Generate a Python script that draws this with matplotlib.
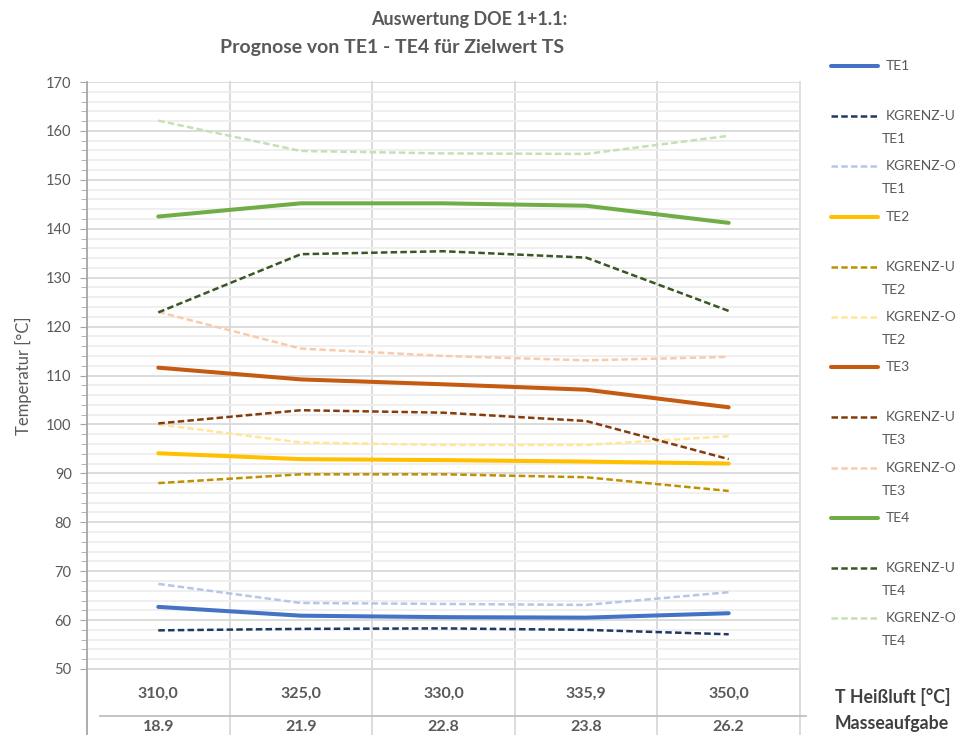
import matplotlib.pyplot as plt
from matplotlib.lines import Line2D
from matplotlib.ticker import MultipleLocator
import matplotlib.transforms as mtransforms

plt.rcParams['font.family'] = ['Lato', 'DejaVu Sans']

# Kategorien (zwei Ebenen)
t_heissluft = ["310,0", "325,0", "330,0", "335,9", "350,0"]
masseaufgabe = ["18.9", "21.9", "22.8", "23.8", "26.2"]

# Prognosewerte
te1 = [62.7, 60.9, 60.6, 60.5, 61.4]
te1_u = [57.9, 58.2, 58.3, 58.0, 57.1]
te1_o = [67.4, 63.5, 63.3, 63.1, 65.7]
te2 = [94.1, 92.9, 92.7, 92.4, 92.0]
te2_u = [88.0, 89.8, 89.8, 89.2, 86.4]
te2_o = [100.0, 96.3, 95.8, 95.8, 97.6]
te3 = [111.6, 109.2, 108.2, 107.1, 103.5]
te3_u = [100.2, 102.9, 102.4, 100.7, 92.9]
te3_o = [123.0, 115.5, 114.0, 113.1, 113.8]
te4 = [142.5, 145.2, 145.2, 144.7, 141.2]
te4_u = [122.9, 134.8, 135.4, 134.1, 123.2]
te4_o = [162.1, 155.9, 155.4, 155.3, 159.0]

series = [
    ("TE1", te1, "#4472C4", "solid"),
    ("KGRENZ-U\nTE1", te1_u, "#203864", "dash"),
    ("KGRENZ-O\nTE1", te1_o, "#B4C7E7", "dash"),
    ("TE2", te2, "#FFC000", "solid"),
    ("KGRENZ-U\nTE2", te2_u, "#BF9000", "dash"),
    ("KGRENZ-O\nTE2", te2_o, "#FFE699", "dash"),
    ("TE3", te3, "#C55A11", "solid"),
    ("KGRENZ-U\nTE3", te3_u, "#843C0C", "dash"),
    ("KGRENZ-O\nTE3", te3_o, "#F8CBAD", "dash"),
    ("TE4", te4, "#70AD47", "solid"),
    ("KGRENZ-U\nTE4", te4_u, "#385723", "dash"),
    ("KGRENZ-O\nTE4", te4_o, "#C5E0B4", "dash"),
]

W, H = 961, 735
fig = plt.figure(figsize=(W / 100, H / 100), dpi=100)
ax = fig.add_axes([87 / W, 1 - 669 / H, (800 - 87) / W, (669 - 82) / H])

text_col = "#595959"
x = list(range(len(t_heissluft)))


def style_kw(kind):
    if kind == "solid":
        return dict(lw=2.9, linestyle="-", solid_capstyle="round")
    return dict(lw=1.8, linestyle=(0, (2.6, 1.3)), dash_capstyle="butt")


for label, vals, col, kind in series:
    ax.plot(x, vals, color=col, zorder=3, **style_kw(kind))

ax.set_xlim(-0.5, len(x) - 0.5)
ax.set_ylim(50, 170)
ax.yaxis.set_major_locator(MultipleLocator(10))
ax.yaxis.set_minor_locator(MultipleLocator(2))
ax.grid(axis="y", which="major", color="#D9D9D9", lw=1.3, zorder=1)
ax.grid(axis="y", which="minor", color="#EEEEEE", lw=1.3, zorder=0)
ax.tick_params(axis="y", which="both", direction="out", color="#A6A6A6",
               labelcolor=text_col, labelsize=10.5, pad=6)
ax.tick_params(axis="y", which="major", length=5)
ax.tick_params(axis="y", which="minor", length=4)
ax.set_xticks([])

for s in ("top", "bottom"):
    ax.spines[s].set_visible(False)
ax.spines["left"].set_color("#A6A6A6")
ax.spines["left"].set_linewidth(1.3)
ax.spines["right"].set_color("#E0E0E0")
ax.spines["right"].set_linewidth(1.3)

# vertikale Trennlinien zwischen Kategorien, bis in den Achsenbereich hinein
trans = mtransforms.blended_transform_factory(ax.transData, ax.transAxes)
for b in [i + 0.5 for i in range(-1, len(x))]:
    c = "#A6A6A6" if b < 0 else "#D9D9D9"
    ax.add_line(Line2D([b, b], [-0.2, 1 if b > -0.5 else 0], transform=trans,
                       color=c, lw=1.3, clip_on=False, zorder=1))
ax.add_line(Line2D([-0.5, len(x) - 0.5], [0, 0], transform=trans,
                   color="#D9D9D9", lw=1.3, clip_on=False, zorder=1))
sep_y = -(716 - 669) / (669 - 82)
ax.add_line(Line2D([-0.41, len(x) - 0.46], [sep_y, sep_y], transform=trans,
                   color="#BFBFBF", lw=1.3, clip_on=False))

lvl1_y = -(694 - 669) / (669 - 82)
lvl2_y = -(727 - 669) / (669 - 82)
for i in x:
    ax.text(i, lvl1_y, t_heissluft[i], transform=trans, ha="center", va="center",
            fontsize=11.5, fontweight="bold", color=text_col)
    ax.text(i, lvl2_y, masseaufgabe[i], transform=trans, ha="center", va="center",
            fontsize=11.5, fontweight="bold", color=text_col)

fig.text(835 / W, 1 - 697 / H, "T Heißluft [°C]", ha="left", va="center",
         fontsize=12.8, fontweight="bold", color="#404040")
fig.text(835 / W, 1 - 724 / H, "Masseaufgabe", ha="left", va="center",
         fontsize=12.8, fontweight="bold", color="#404040")

ax.set_ylabel("Temperatur [°C]", fontsize=12, color=text_col, labelpad=10)

fig.text(469 / W, 1 - 20 / H, "Auswertung DOE 1+1.1:", ha="center", va="center",
         fontsize=13, fontweight="bold", color=text_col)
fig.text(392 / W, 1 - 47 / H, "Prognose von TE1 - TE4 für Zielwert TS", ha="center",
         va="center", fontsize=14, fontweight="bold", color=text_col)

# Legende rechts
leg_y0, leg_step = 66, 50.2
for k, (label, vals, col, kind) in enumerate(series):
    yy = 1 - (leg_y0 + k * leg_step) / H
    kw = style_kw(kind)
    fig.add_artist(Line2D([831 / W, 878 / W], [yy, yy], transform=fig.transFigure,
                          color=col, **kw))
    first, *rest = label.split("\n")
    fig.text(886 / W, yy, first, ha="left", va="center", fontsize=10, color=text_col)
    if rest:
        fig.text(882 / W, yy - 23 / H, rest[0], ha="left", va="center",
                 fontsize=10, color=text_col)

fig.savefig("out.png", dpi=100)
